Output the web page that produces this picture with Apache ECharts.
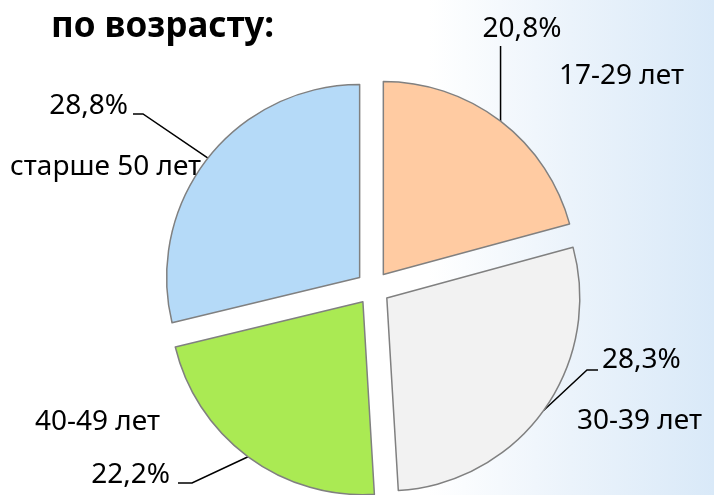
<!DOCTYPE html>
<html>
<head>
<meta charset="utf-8">
<script src="https://cdn.jsdelivr.net/npm/echarts@6/dist/echarts.min.js"></script>
<style>
html,body{margin:0;padding:0;}
body{width:714px;height:495px;overflow:hidden;background:linear-gradient(to right,#ffffff 0%,#ffffff 60%,#ebf3fb 80%,#d9e9f8 100%);}
#chart{width:714px;height:495px;}
</style>
</head>
<body>
<div id="chart"></div>
<script>
const titleText = 'по возрасту:';
const categories = ['17-29 лет', '30-39 лет', '40-49 лет', 'старше 50 лет'];
const values = [20.8, 28.3, 22.2, 28.8];
const valueLabels = ['20,8%', '28,3%', '22,2%', '28,8%'];
const colors = ['#FFCBA2', '#F2F2F2', '#AAEA53', '#B5DAF8'];

// label placement (layout only); null x in a line point = keep the anchor's x
const pctLayout = [
  {x: 522, y: 29, align: 'center', line: [[null, 84], [null, 46]]},
  {x: 602, y: 360, align: 'left', line: [[587, 370], [598, 370]]},
  {x: 170, y: 475, align: 'right', line: [[192, 483], [178, 483]]},
  {x: 128, y: 106, align: 'right', line: [[143, 114], [133, 114]]}
];
const nameLayout = [
  {x: 559, y: 76, align: 'left'},
  {x: 577, y: 421, align: 'left'},
  {x: 35, y: 422, align: 'left'},
  {x: 10, y: 167, align: 'left'}
];

const FONT = '"Noto Sans", sans-serif';
const CENTER = [373, 288];
const RADIUS = 193;
const EXPLODE = 17;
const total = values.reduce((a, b) => a + b, 0);

const chart = echarts.init(document.getElementById('chart'));
const series = [];
let cum = 0;
values.forEach((v, i) => {
  const midDeg = 90 - (cum + v / 2) / total * 360;
  cum += v;
  const rad = midDeg * Math.PI / 180;
  const c = [CENTER[0] + EXPLODE * Math.cos(rad), CENTER[1] - EXPLODE * Math.sin(rad)];
  series.push({
    type: 'pie',
    center: c,
    radius: [0, RADIUS],
    startAngle: 90,
    clockwise: true,
    silent: true,
    avoidLabelOverlap: false,
    emphasis: {disabled: true},
    label: {
      show: true,
      formatter: p => valueLabels[p.dataIndex],
      fontFamily: FONT, fontSize: 28, color: '#000', overflow: 'none'
    },
    labelLine: {show: true, lineStyle: {color: '#000', width: 1.5}},
    labelLayout: function (p) {
      const L = pctLayout[p.dataIndex];
      const res = {x: L.x, y: L.y, align: L.align, verticalAlign: 'middle'};
      if (p.labelLinePoints) {
        const s = p.labelLinePoints[0];
        const pts = L.line.map(pt => [pt[0] === null ? s[0] : pt[0], pt[1]]);
        res.labelLinePoints = [s, pts[0], pts[1]];
      }
      return res;
    },
    data: categories.map((name, j) => j === i ? {
      name: name, value: values[j],
      itemStyle: {color: colors[j], borderColor: '#808080', borderWidth: 1.5}
    } : {
      name: name, value: values[j],
      itemStyle: {color: 'rgba(0,0,0,0)', borderWidth: 0},
      label: {show: false}, labelLine: {show: false}
    })
  });
});
series.push({
  type: 'pie',
  center: CENTER,
  radius: [0, RADIUS],
  startAngle: 90,
  clockwise: true,
  silent: true,
  z: 5,
  avoidLabelOverlap: false,
  itemStyle: {color: 'rgba(0,0,0,0)', borderWidth: 0},
  emphasis: {disabled: true},
  label: {
    show: true,
    formatter: '{b}',
    fontFamily: FONT, fontSize: 28, color: '#000', overflow: 'none'
  },
  labelLine: {show: false},
  labelLayout: function (p) {
    const L = nameLayout[p.dataIndex];
    return {x: L.x, y: L.y, align: L.align, verticalAlign: 'middle'};
  },
  data: categories.map((c, i) => ({name: c, value: values[i]}))
});

chart.setOption({
  animation: false,
  title: {
    text: titleText, left: 46, top: 5,
    textStyle: {fontFamily: FONT, fontWeight: 'bold', fontSize: 35, color: '#000'}
  },
  series: series
});
</script>
</body>
</html>
